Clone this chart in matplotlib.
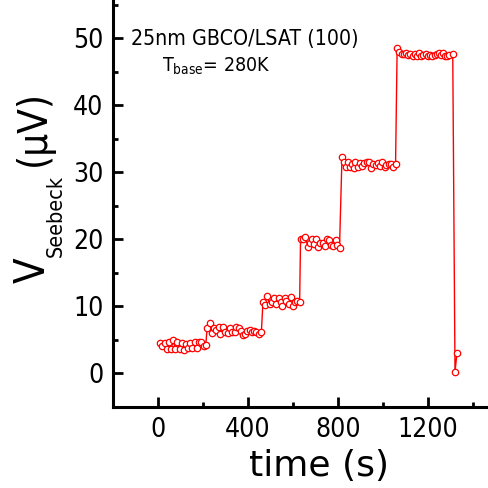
import matplotlib
matplotlib.use("Agg")
import matplotlib.pyplot as plt
from matplotlib.ticker import MultipleLocator

plt.rcParams['font.family'] = ['DejaVu Sans']
plt.rcParams['font.stretch'] = 'condensed'
plt.rcParams['mathtext.fontset'] = 'dejavusans'

# time (s) and Seebeck voltage (uV)
time_s = [7, 18, 30, 40, 49, 58, 67, 77, 86, 96, 107, 115, 123, 133, 144, 152, 163, 173, 182, 192, 203, 212,
          218, 229, 238, 249, 259, 269, 277, 289, 299, 311, 321, 330, 340, 348, 358, 367, 377, 386, 396, 407,
          417, 426, 436, 447, 459,
          466, 473, 485, 496, 506, 515, 525, 536, 544, 552, 562, 570, 580, 589, 599, 610, 618, 629,
          633, 644, 654, 666, 673, 683, 692, 703, 710, 720, 732, 741, 750, 759, 769, 777, 789, 796, 806,
          817, 825, 833, 843, 851, 861, 870, 877, 888, 898, 907, 917, 928, 936, 947, 957, 966, 976, 987,
          996, 1006, 1013, 1025, 1036, 1043, 1055,
          1062, 1072, 1083, 1092, 1102, 1112, 1121, 1132, 1142, 1151, 1158, 1169, 1179, 1188, 1198, 1209,
          1218, 1228, 1238, 1247, 1257, 1265, 1275, 1284, 1294, 1309,
          1319, 1328]
v_seebeck = [4.5, 4.0, 4.5, 3.6, 4.6, 3.6, 4.9, 3.6, 4.6, 3.6, 4.5, 3.5, 4.4, 3.7, 4.5, 3.7, 4.7, 3.7, 4.7, 4.6, 4.0, 4.2,
             6.8, 7.55, 6.0, 6.8, 6.4, 6.9, 5.9, 6.95, 6.2, 6.0, 6.75, 6.2, 6.2, 6.85, 6.7, 6.3, 5.7, 5.8, 6.3, 6.5,
             6.1, 6.3, 6.2, 5.9, 6.2,
             10.6, 10.2, 11.5, 10.3, 10.7, 11.2, 10.3, 11.3, 10.7, 10.0, 11.3, 10.8, 10.4, 11.4, 10.0, 10.7, 10.8, 10.7,
             20.1, 20.0, 20.4, 18.8, 19.4, 20.0, 19.3, 20.0, 18.9, 19.5, 19.4, 19.0, 20.0, 19.9, 19.2, 19.0, 19.9, 19.2, 18.7,
             32.2, 31.6, 30.8, 31.6, 30.8, 31.3, 30.7, 31.5, 30.8, 31.4, 30.9, 31.4, 31.6, 31.6, 30.6, 31.3, 31.1, 31.4, 30.9,
             31.5, 30.8, 31.1, 31.3, 31.3, 30.8, 31.3,
             48.5, 47.9, 47.7, 47.6, 47.8, 47.5, 47.7, 47.3, 47.6, 47.3, 47.8, 47.4, 47.5, 47.6, 47.3, 47.5,
             47.4, 47.5, 47.6, 47.8, 47.5, 47.8, 47.4, 47.3, 47.5, 47.6,
             0.25, 3.1]

W, H = 489, 488
fig = plt.figure(figsize=(W / 100, H / 100), dpi=100)
ax = fig.add_axes([113 / W, 81 / H, 376 / W, 407 / H])

ax.plot(time_s, v_seebeck, color='red', lw=1.0, marker='o', ms=4.6,
        mfc='white', mec='red', mew=0.9)

ax.set_xlim(-200, 1470)
ax.set_ylim(-5.03, 55.7)
ax.xaxis.set_major_locator(MultipleLocator(400))
ax.xaxis.set_minor_locator(MultipleLocator(200))
ax.yaxis.set_major_locator(MultipleLocator(10))
ax.yaxis.set_minor_locator(MultipleLocator(5))

for side in ['top', 'right']:
    ax.spines[side].set_visible(False)
for side in ['left', 'bottom']:
    ax.spines[side].set_linewidth(2.2)

ax.tick_params(which='major', direction='in', length=7, width=2, labelsize=19, pad=7)
ax.tick_params(which='minor', direction='in', length=3.5, width=2)

ax.set_xlabel('time (s)', fontsize=26, fontstretch='normal')
ax.xaxis.set_label_coords(0.548, -0.103)

# y label built from pieces so the subscript can be smaller
ylab = dict(rotation=90, rotation_mode='anchor', ha='left', va='baseline')
fig.text(45 / W, 1 - 283 / H, 'V', fontsize=30, **ylab)
fig.text(62 / W, 1 - 257 / H, 'Seebeck', fontsize=15.5, **ylab)
fig.text(45 / W, 1 - 166 / H, '(μV)', fontsize=29, **ylab)

fig.text(131 / W, 1 - 45 / H, '25nm GBCO/LSAT (100)', fontsize=15.3)
fig.text(162 / W, 1 - 72 / H, r'T$_{\mathrm{base}}$= 280K', fontsize=14)

fig.savefig('out.png', dpi=100)
